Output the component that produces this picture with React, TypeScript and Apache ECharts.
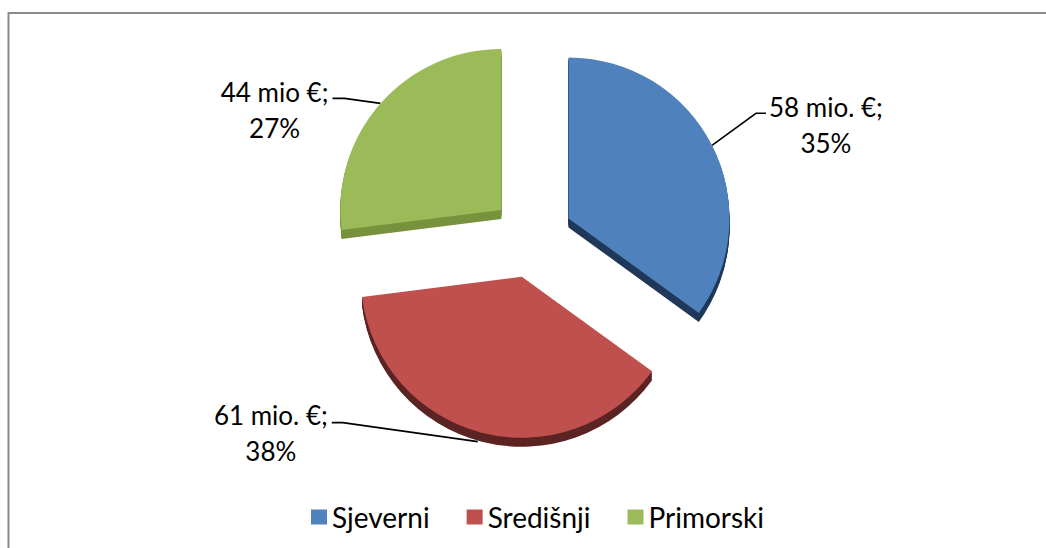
import React, { useEffect, useRef } from 'react';
import * as echarts from 'echarts';

// ---- data ----
const regions = ['Sjeverni', 'Središnji', 'Primorski'];
const sharePercent = [35, 38, 27];
const amountMio = [58, 61, 44];
const amountUnit = ['mio. €;', 'mio. €;', 'mio €;'];

// ---- styling / layout ----
const topColors = ['#4F81BD', '#C0504D', '#9BBB59'];
const sideColors = ['#1F3859', '#5B2322', '#76923C'];
const CX = 532;
const CY = 237;
const R = 161;
const EXPLODE = 41;
const DEPTH = 9;
const FONT = 'Lato';
const FS = 26;

// leader line layout per slice (start shift, elbow offset, horizontal run, text shift)
const leader = [
  { sx: 0, sy: 0, ex: 44, ey: -32, hx: 10, ty: 12 },
  { sx: -4, sy: 9, ex: -135, ey: -19, hx: -11, ty: 10 },
  { sx: 0, sy: 0, ex: -36, ey: -5, hx: -12, ty: 12 },
];

function pieSeries(colors: string[], suffix: string, dy: number, z: number, silent: boolean) {
  return {
    type: 'pie',
    center: [CX, CY + dy],
    radius: [0, R],
    startAngle: 90,
    clockwise: true,
    selectedMode: 'multiple',
    selectedOffset: EXPLODE,
    silent,
    z,
    label: { show: false },
    labelLine: { show: false },
    emphasis: { disabled: true },
    select: { itemStyle: { borderWidth: 0 } },
    itemStyle: { borderWidth: 0 },
    data: regions.map((name, i) => ({
      name: name + suffix,
      value: sharePercent[i],
      selected: true,
      itemStyle: { color: colors[i], borderWidth: 0 },
    })),
  };
}

function labelGraphics() {
  const total = sharePercent.reduce((a, b) => a + b, 0);
  let cum = 0;
  return regions.map((_, i) => {
    const a0 = (cum / total) * Math.PI * 2;
    cum += sharePercent[i];
    const a1 = (cum / total) * Math.PI * 2;
    const mid = (a0 + a1) / 2;
    const ux = Math.sin(mid);
    const uy = -Math.cos(mid);
    const L = leader[i];
    const ax = CX + (EXPLODE + R) * ux + L.sx;
    const ay = CY + (EXPLODE + R) * uy + L.sy;
    const bx = ax + L.ex;
    const by = ay + L.ey;
    const endX = bx + L.hx;
    const right = ux > 0;
    return {
      type: 'group',
      silent: true,
      z: 10,
      children: [
        {
          type: 'polyline',
          shape: { points: [[ax, ay], [bx, by], [endX, by]] },
          style: { stroke: '#000', lineWidth: 1.6, fill: 'none' },
        },
        {
          type: 'text',
          style: {
            x: endX + (right ? 3 : -4),
            y: by + L.ty,
            text: `{a|${amountMio[i]} ${amountUnit[i]}}\n{a|${sharePercent[i]}%}`,
            align: right ? 'left' : 'right',
            verticalAlign: 'middle',
            fontFamily: FONT,
            fontSize: FS,
            fill: '#000',
            rich: {
              a: { align: 'center', fontFamily: FONT, fontSize: FS, lineHeight: 36, fill: '#000' },
            },
          },
        },
      ],
    };
  });
}

export default function App() {
  const ref = useRef<HTMLDivElement>(null);
  useEffect(() => {
    if (!ref.current) return;
    const chart = echarts.init(ref.current, null, { renderer: 'svg' });
    const depthSeries = [];
    for (let k = 1; k <= DEPTH; k++) {
      depthSeries.push(pieSeries(sideColors, ` d${k}`, k, 1, true));
    }
    chart.setOption({
      animation: false,
      backgroundColor: '#fff',
      legend: {
        data: regions,
        left: 306,
        top: 498,
        icon: 'rect',
        itemWidth: 16,
        itemHeight: 15,
        itemGap: 37,
        selectedMode: false,
        textStyle: { fontFamily: FONT, fontSize: 28, color: '#000' },
      },
      graphic: [
        {
          type: 'rect',
          silent: true,
          z: 0,
          shape: { x: 8.5, y: 13, width: 1100, height: 600 },
          style: { fill: 'none', stroke: '#8A8A8A', lineWidth: 2 },
        },
        ...labelGraphics(),
      ],
      series: [pieSeries(topColors, '', 0, 5, false), ...depthSeries],
    });
    return () => chart.dispose();
  }, []);
  return (
    <div
      ref={ref}
      style={{ position: 'fixed', left: 0, top: 0, width: 1046, height: 548 }}
    />
  );
}
